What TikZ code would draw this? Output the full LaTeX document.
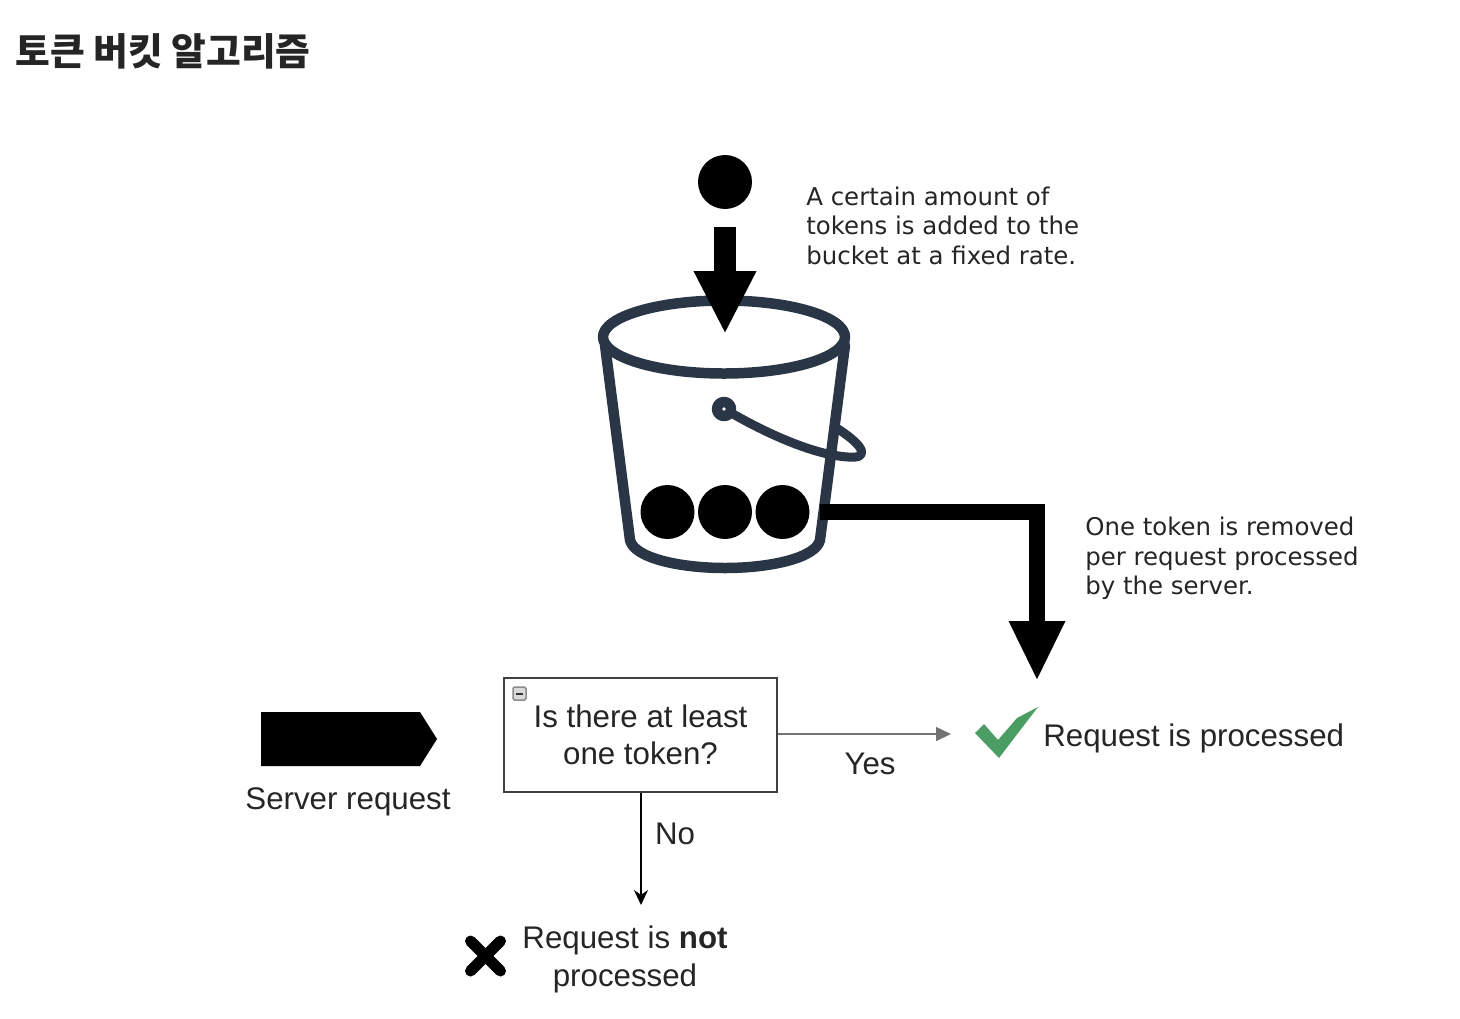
\documentclass[tikz,border=0pt]{standalone}
\usepackage{fontspec}
\setmainfont{Liberation Sans}
\newfontfamily\notefont{DejaVu Sans}
\newfontfamily\titlefont{Noto Sans CJK KR}
\usetikzlibrary{arrows.meta}
\definecolor{bucketcol}{HTML}{2A3645}
\definecolor{textcol}{HTML}{252525}
\definecolor{checkcol}{HTML}{4A9D63}
\tikzset{
  token/.style={circle,fill=black,inner sep=0pt,minimum size=1.08cm},
  bucketline/.style={draw=bucketcol,line width=.21cm,line join=round,line cap=round},
  fatdown/.style={draw=black,line width=.44cm,-{Triangle[length=1.26cm,width=1.16cm]}},
  fatelbow/.style={draw=black,line width=.32cm,-{Triangle[length=1.2cm,width=1.04cm]}},
  flowtext/.style={text=textcol,align=center,inner sep=0pt,font=\fontsize{17.8}{21.3}\selectfont},
  notetext/.style={text=textcol,align=left,anchor=west,inner sep=0pt,font=\notefont\fontsize{13.9}{16.8}\selectfont},
}
\begin{document}
\begin{tikzpicture}[x=.02cm,y=-.02cm]
  \useasboundingbox (0,0) rectangle (1460,1018);
  \node[anchor=west,inner sep=0pt,text=textcol,font=\titlefont\bfseries\fontsize{21.5}{26}\selectfont] (title) at (15,51) {토큰 버킷 알고리즘};
  % bucket
  \draw[bucketline] (724,409) circle (7);
  \draw[bucketline] (603,337) arc[x radius=121,y radius=36.5,start angle=180,end angle=-180];
  \draw[bucketline] (605,345) -- (630,540) .. controls (634,558) and (680,568) .. (725,568)
    .. controls (770,568) and (816,558) .. (820,540) -- (845,345);
  \draw[bucketline,line width=.18cm] (733,414) .. controls (770,435) and (815,455) .. (848,457)
    .. controls (869,459) and (866,447) .. (838,429);
  % tokens
  \node[token] (tokenA) at (667.5,512) {};
  \node[token] (tokenB) at (725,512) {};
  \node[token] (tokenC) at (782.5,512) {};
  \node[token] (tokenTop) at (725,182) {};
  \coordinate (dropStart) at (725,227);
  \coordinate (dropEnd) at (725,334);
  \draw[fatdown] (dropStart)--(dropEnd);
  \coordinate (bucketOut) at (820,512);
  \coordinate (okTip) at (1037,681);
  \draw[fatelbow] (bucketOut)-|(okTip);
  \node[notetext] (noteAdd) at (806,225.5) {A certain amount of\\tokens is added to the\\bucket at a fixed rate.};
  \node[notetext] (noteRemove) at (1085,558.5) {One token is removed\\per request processed\\by the server.};
  % decision
  \fill[black] (261,712)--(420,712)--(437,739)--(420,766)--(261,766)--cycle;
  \node[flowtext] (serverLabel) at (348,802) {Server request};
  \node[flowtext,draw=black!75,line width=.04cm,minimum width=5.46cm,minimum height=2.28cm] (box) at (640.5,735) {Is there at least\\one token?};
  \draw[draw=black!45,fill=black!15,rounded corners=.03cm,line width=.03cm] (513,687) rectangle (526,700);
  \draw[black!80,line width=.04cm] (516,693.5)--(523,693.5);
  \coordinate (yesEnd) at (951,734);
  \coordinate (noEnd) at (641,905);
  \draw[draw=black!55,line width=.03cm,-{Triangle[length=.3cm,width=.28cm]}] (box.east|-yesEnd)--(yesEnd);
  \draw[line width=.035cm,-{Stealth[length=.3cm,width=.28cm]}] (box.south-|noEnd)--(noEnd);
  \node[flowtext] (yesLabel) at (870,764) {Yes};
  \node[flowtext] (noLabel) at (675,834) {No};
  % results
  \fill[checkcol] (975,733)--(984,724)--(998,740)--(1017,718)--(1038,707)--(1018,733)--(999,758)--cycle;
  \node[flowtext,anchor=west] (okLabel) at (1043,738) {Request is processed};
  \draw[line width=.22cm,line cap=round] (470.5,941)--(500.5,971) (500.5,941)--(470.5,971);
  \node[flowtext] (failLabel) at (625,959.5) {Request is \textbf{not}\\processed};
\end{tikzpicture}
\end{document}
